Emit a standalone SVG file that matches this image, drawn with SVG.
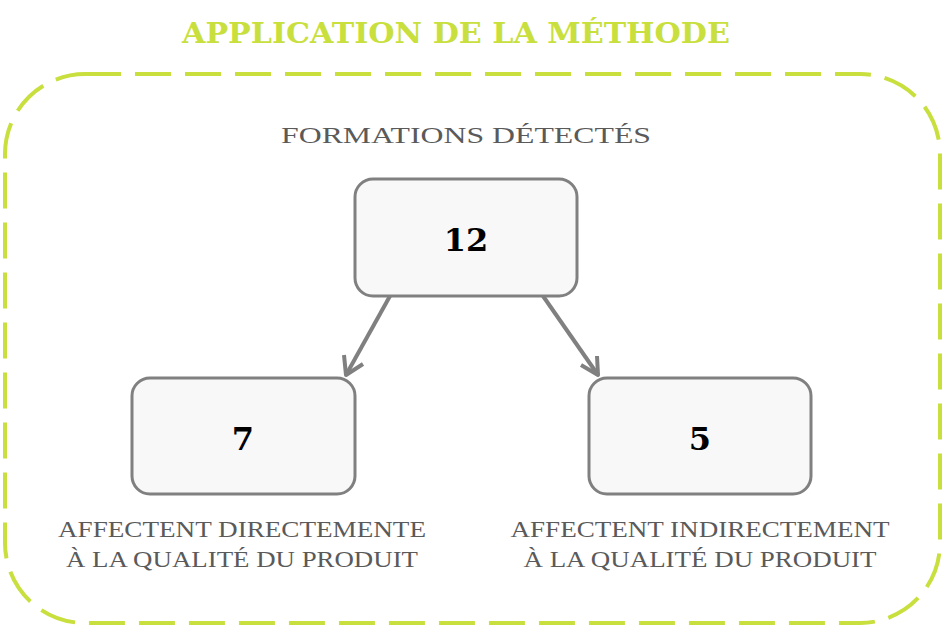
<svg xmlns="http://www.w3.org/2000/svg" width="945" height="628" viewBox="0 0 945 628">
<style>
.title{font-family:"DejaVu Serif","Liberation Serif",serif;font-weight:bold;font-size:28px;fill:#c8df3e}
.lbl{font-family:"Liberation Serif","DejaVu Serif",serif;font-size:23px;fill:#5a5a5a}
.num{font-family:"DejaVu Serif","Liberation Serif",serif;font-weight:bold;font-size:32px;fill:#000}
.box{fill:#f8f8f8;stroke:#808080;stroke-width:3}
.conn{stroke:#808080;stroke-width:4;fill:none;stroke-linejoin:round}
</style>
<rect width="945" height="628" fill="#fff"/>
<text class="title" x="456" y="43" text-anchor="middle" textLength="548" lengthAdjust="spacingAndGlyphs">APPLICATION DE LA MÉTHODE</text>
<rect x="5" y="74" width="935" height="549" rx="80" fill="none" stroke="#c8df3e" stroke-width="4" stroke-dasharray="36 14"/>
<text class="lbl" x="466" y="143" text-anchor="middle" textLength="370" lengthAdjust="spacingAndGlyphs">FORMATIONS DÉTECTÉS</text>
<g id="conns">
<path class="conn" d="M390 296 L346 375"/>
<path class="conn" d="M344 355 L346 375 L363 364"/>
<path class="conn" d="M543 296 L598 375"/>
<path class="conn" d="M581 365 L598 375 L597 356"/>
</g>
<g id="n12">
<rect class="box" x="355" y="179" width="222" height="117" rx="18"/>
<text class="num" x="466" y="251" text-anchor="middle">12</text>
</g>
<g id="n7">
<rect class="box" x="132" y="378" width="223" height="116" rx="18"/>
<text class="num" x="243" y="450" text-anchor="middle">7</text>
</g>
<g id="n5">
<rect class="box" x="589" y="378" width="222" height="116" rx="18"/>
<text class="num" x="700" y="450" text-anchor="middle">5</text>
</g>
<text class="lbl" x="242" y="537" text-anchor="middle" textLength="368" lengthAdjust="spacingAndGlyphs">AFFECTENT DIRECTEMENTE</text>
<text class="lbl" x="242" y="567" text-anchor="middle" textLength="352" lengthAdjust="spacingAndGlyphs">À LA QUALITÉ DU PRODUIT</text>
<text class="lbl" x="700" y="537" text-anchor="middle" textLength="379" lengthAdjust="spacingAndGlyphs">AFFECTENT INDIRECTEMENT</text>
<text class="lbl" x="700" y="567" text-anchor="middle" textLength="353" lengthAdjust="spacingAndGlyphs">À LA QUALITÉ DU PRODUIT</text>
</svg>
